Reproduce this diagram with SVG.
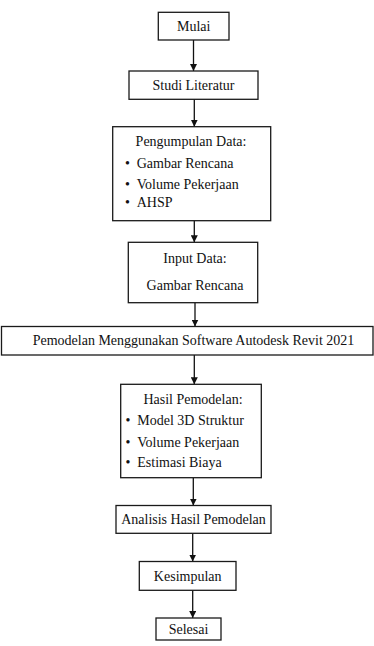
<svg xmlns="http://www.w3.org/2000/svg" width="374" height="646" viewBox="0 0 374 646" font-family="'Liberation Serif', 'Times New Roman', Tinos, serif">
  <style>
    .box { fill: #ffffff; stroke: #1a1a1a; stroke-width: 1.3; }
    text { font-family: 'Liberation Serif', 'Times New Roman', Tinos, serif; font-size: 14px; fill: #111111; }
    .mid { text-anchor: middle; }
    .conn { stroke: #111111; stroke-width: 1.3; fill: none; marker-end: url(#arrow); }
  </style>
  <defs>
    <marker id="arrow" markerUnits="userSpaceOnUse" markerWidth="7" markerHeight="7" refX="7" refY="3.5" orient="auto">
      <path d="M0,0 L7,3.5 L0,7 z" fill="#111111"/>
    </marker>
  </defs>
  <rect width="374" height="646" fill="#ffffff"/>

  <g id="connectors">
    <line class="conn" x1="193.5" y1="40" x2="193.5" y2="71"/>
    <line class="conn" x1="194.3" y1="99.3" x2="194.3" y2="126.7"/>
    <line class="conn" x1="194.3" y1="220.7" x2="194.3" y2="242.3"/>
    <line class="conn" x1="195" y1="302.7" x2="195" y2="326.5"/>
    <line class="conn" x1="194.3" y1="355" x2="194.3" y2="384.3"/>
    <line class="conn" x1="193.3" y1="477.7" x2="193.3" y2="505.5"/>
    <line class="conn" x1="192.7" y1="533.3" x2="192.7" y2="561.5"/>
    <line class="conn" x1="192.7" y1="590.3" x2="192.7" y2="618"/>
  </g>

  <g id="mulai">
    <rect class="box" x="158.3" y="12.3" width="70.7" height="27.7"/>
    <text class="mid" x="193.7" y="30.5">Mulai</text>
  </g>

  <g id="studi-literatur">
    <rect class="box" x="129" y="71" width="129" height="28.3"/>
    <text class="mid" x="193.5" y="90">Studi Literatur</text>
  </g>

  <g id="pengumpulan-data">
    <rect class="box" x="112.7" y="126.7" width="158" height="94"/>
    <text class="mid" x="191" y="146">Pengumpulan Data:</text>
    <text x="125" y="168">•</text>
    <text x="136.7" y="168">Gambar Rencana</text>
    <text x="125" y="189">•</text>
    <text x="136.7" y="189">Volume Pekerjaan</text>
    <text x="125" y="207">•</text>
    <text x="136.7" y="207">AHSP</text>
  </g>

  <g id="input-data">
    <rect class="box" x="128.3" y="242.3" width="129.4" height="60.4"/>
    <text class="mid" x="195" y="263">Input Data:</text>
    <text class="mid" x="195" y="290">Gambar Rencana</text>
  </g>

  <g id="pemodelan">
    <rect class="box" x="1.5" y="326.5" width="371.5" height="28.5"/>
    <text class="mid" x="193.5" y="345">Pemodelan Menggunakan Software Autodesk Revit 2021</text>
  </g>

  <g id="hasil-pemodelan">
    <rect class="box" x="120.7" y="384.3" width="140.6" height="93.4"/>
    <text class="mid" x="193" y="404">Hasil Pemodelan:</text>
    <text x="125.5" y="425">•</text>
    <text x="137.3" y="425">Model 3D Struktur</text>
    <text x="125.5" y="447">•</text>
    <text x="137.3" y="447">Volume Pekerjaan</text>
    <text x="125.5" y="467">•</text>
    <text x="137.3" y="467">Estimasi Biaya</text>
  </g>

  <g id="analisis">
    <rect class="box" x="116" y="505.5" width="155" height="27.8"/>
    <text class="mid" x="193.5" y="524">Analisis Hasil Pemodelan</text>
  </g>

  <g id="kesimpulan">
    <rect class="box" x="139.3" y="561.5" width="96.7" height="28.8"/>
    <text class="mid" x="187.7" y="581">Kesimpulan</text>
  </g>

  <g id="selesai">
    <rect class="box" x="156" y="618" width="65" height="22"/>
    <text class="mid" x="188.5" y="634">Selesai</text>
  </g>
</svg>
